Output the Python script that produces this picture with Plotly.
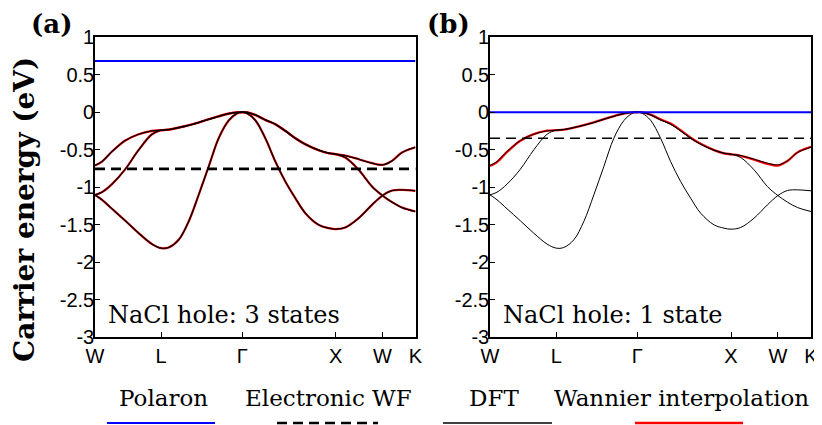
import plotly.graph_objects as go

# ---------------- data ----------------
# high-symmetry path W-L-Γ-X-W-K (path length, units of 2π/a)
sym_k = [0.0, 0.7071, 1.5731, 2.5731, 3.0731, 3.4267]
sym_labels = ["W", "L", "Γ", "X", "W", "K"]

# sampled positions along the path
k_path = [0.0, 0.0748, 0.1818, 0.3243, 0.4669, 0.6094, 0.7071, 0.7876, 0.8946,
          1.0015, 1.1084, 1.2153, 1.3222, 1.4292, 1.5182, 1.5731, 1.6251, 1.7142,
          1.8211, 1.9281, 2.0350, 2.1419, 2.2488, 2.3914, 2.4983, 2.5731, 2.6765,
          2.8190, 2.9616, 3.0731, 3.1754, 3.2824, 3.4267]

# DFT valence bands (eV)
band_top = [-0.710, -0.658, -0.525, -0.378, -0.294, -0.249, -0.240, -0.232, -0.205,
            -0.174, -0.138, -0.094, -0.054, -0.018, -0.002, 0.000, -0.002, -0.036,
            -0.103, -0.160, -0.249, -0.347, -0.427, -0.507, -0.547, -0.560, -0.578,
            -0.627, -0.680, -0.703, -0.649, -0.538, -0.467]
band_mid = [-1.103, -1.067, -0.960, -0.760, -0.503, -0.294, -0.240, -0.232, -0.205,
            -0.174, -0.138, -0.094, -0.054, -0.018, -0.002, 0.000, -0.002, -0.036,
            -0.103, -0.160, -0.249, -0.347, -0.427, -0.507, -0.547, -0.560, -0.605,
            -0.769, -0.992, -1.112, -1.200, -1.272, -1.325]
band_low = [-1.103, -1.169, -1.289, -1.449, -1.614, -1.760, -1.814, -1.805, -1.703,
            -1.458, -1.103, -0.725, -0.347, -0.111, -0.016, 0.000, -0.015, -0.107,
            -0.347, -0.658, -0.925, -1.147, -1.347, -1.503, -1.547, -1.561, -1.538,
            -1.414, -1.236, -1.112, -1.045, -1.036, -1.049]

# Wannier interpolation of the single state in panel (b)
wannier_b = [-0.718, -0.665, -0.530, -0.380, -0.293, -0.247, -0.240, -0.232, -0.204,
             -0.172, -0.135, -0.091, -0.052, -0.017, -0.002, 0.000, -0.001, -0.032,
             -0.096, -0.152, -0.241, -0.340, -0.422, -0.505, -0.548, -0.562, -0.581,
             -0.632, -0.688, -0.712, -0.652, -0.536, -0.462]

polaron_energy = [0.684, 0.0]       # (a), (b)
wf_energy = [-0.756, -0.347]        # (a), (b)

panel_letters = ["(a)", "(b)"]
panel_notes = ["NaCl hole: 3 states", "NaCl hole: 1 state"]
legend_names = ["Polaron", "Electronic WF", "DFT", "Wannier interpolation"]

y_ticks = [1, 0.5, 0, -0.5, -1, -1.5, -2, -2.5, -3]
y_tick_text = ["1", "0.5", "0", "-0.5", "-1", "-1.5", "-2", "-2.5", "-3"]

# ---------------- figure ----------------
W, H = 822, 425
OFF = 8  # page (body) margin in front of the figure


def px(x):
    return (x - OFF) / W


def py(y):
    return 1 - (y - OFF) / H


RED = "#ff0000"
BLUE = "#0000ff"
BLACK = "#000000"
SERIF = "DejaVu Serif"
SANS = "Liberation Sans"

fig = go.Figure()
kmin, kmax = k_path[0], k_path[-1]
bands = [band_top, band_mid, band_low]

# ---- panel (a) ----
for b in bands:
    fig.add_trace(go.Scatter(x=k_path, y=b, mode="lines", xaxis="x", yaxis="y",
                             line=dict(color=RED, width=2.2, shape="spline"),
                             showlegend=False, hoverinfo="skip"))
for b in bands:
    fig.add_trace(go.Scatter(x=k_path, y=b, mode="lines", xaxis="x", yaxis="y",
                             line=dict(color=BLACK, width=1.3, shape="spline"),
                             showlegend=False, hoverinfo="skip"))
fig.add_trace(go.Scatter(x=[kmin, kmax], y=[wf_energy[0]] * 2, mode="lines",
                         xaxis="x", yaxis="y",
                         line=dict(color=BLACK, width=2.6, dash="10px,6px"),
                         showlegend=False, hoverinfo="skip"))
fig.add_trace(go.Scatter(x=[kmin, kmax], y=[polaron_energy[0]] * 2, mode="lines",
                         xaxis="x", yaxis="y",
                         line=dict(color=BLUE, width=2.2),
                         showlegend=False, hoverinfo="skip"))

# ---- panel (b) ----
fig.add_trace(go.Scatter(x=k_path, y=wannier_b, mode="lines", xaxis="x2", yaxis="y2",
                         line=dict(color=RED, width=2.3, shape="spline"),
                         showlegend=False, hoverinfo="skip"))
for b in bands:
    fig.add_trace(go.Scatter(x=k_path, y=b, mode="lines", xaxis="x2", yaxis="y2",
                             line=dict(color=BLACK, width=1.0, shape="spline"),
                             showlegend=False, hoverinfo="skip"))
fig.add_trace(go.Scatter(x=[kmin, kmax], y=[wf_energy[1]] * 2, mode="lines",
                         xaxis="x2", yaxis="y2",
                         line=dict(color=BLACK, width=1.6, dash="10px,6px"),
                         showlegend=False, hoverinfo="skip"))
fig.add_trace(go.Scatter(x=[kmin, kmax], y=[polaron_energy[1]] * 2, mode="lines",
                         xaxis="x2", yaxis="y2",
                         line=dict(color=BLUE, width=1.8),
                         showlegend=False, hoverinfo="skip"))

xax = dict(range=[kmin, kmax], tickvals=sym_k, ticktext=sym_labels,
           ticks="inside", ticklen=5, tickwidth=1.2, tickcolor=BLACK,
           showline=True, mirror=True, linecolor=BLACK, linewidth=1.6,
           showgrid=False, zeroline=False, automargin=False, ticklabelstandoff=0,
           tickfont=dict(family=SANS, size=20, color=BLACK), fixedrange=True)
yax = dict(range=[-3, 1], tickvals=y_ticks, ticktext=y_tick_text,
           ticks="inside", ticklen=5, tickwidth=1.2, tickcolor=BLACK,
           showline=True, mirror=True, linecolor=BLACK, linewidth=1.6,
           showgrid=False, zeroline=False, ticklabelstandoff=-5, automargin=False,
           tickfont=dict(family=SANS, size=20, color=BLACK), fixedrange=True,
           domain=[py(337), py(37.3)])

annotations = [
    dict(text="<b>Carrier energy (eV)</b>", x=px(24), y=py(210), xref="paper", yref="paper",
         textangle=-90, showarrow=False, font=dict(family=SERIF, size=28, color=BLACK),
         xanchor="center", yanchor="middle"),
    dict(text="<b>" + panel_letters[0] + "</b>", x=px(51), y=py(24), xref="paper", yref="paper",
         showarrow=False, font=dict(family=SERIF, size=26, color=BLACK),
         xanchor="center", yanchor="middle"),
    dict(text="<b>" + panel_letters[1] + "</b>", x=px(448), y=py(24), xref="paper", yref="paper",
         showarrow=False, font=dict(family=SERIF, size=26, color=BLACK),
         xanchor="center", yanchor="middle"),
    dict(text=panel_notes[0], x=px(106), y=py(315), xref="paper", yref="paper",
         showarrow=False, font=dict(family=SERIF, size=24, color=BLACK),
         xanchor="left", yanchor="middle"),
    dict(text=panel_notes[1], x=px(501), y=py(315), xref="paper", yref="paper",
         showarrow=False, font=dict(family=SERIF, size=24, color=BLACK),
         xanchor="left", yanchor="middle"),
]
legend_text_x = [163, 328, 494, 681]
for name, cx in zip(legend_names, legend_text_x):
    annotations.append(dict(text=name, x=px(cx), y=py(398), xref="paper", yref="paper",
                            showarrow=False, font=dict(family=SERIF, size=23, color=BLACK),
                            xanchor="center", yanchor="middle"))

legend_keys = [
    (107, 215, dict(color=BLUE, width=2.2)),
    (277, 378, dict(color=BLACK, width=2.6, dash="10px,6px")),
    (443, 552, dict(color=BLACK, width=1.4)),
    (635, 743, dict(color=RED, width=2.6)),
]
shapes = [dict(type="line", xref="paper", yref="paper", x0=px(a), x1=px(b),
               y0=py(423), y1=py(423), line=ln) for a, b, ln in legend_keys]

fig.update_layout(
    width=W, height=H, autosize=False,
    margin=dict(l=0, r=0, t=0, b=0, pad=0, autoexpand=False),
    paper_bgcolor="white", plot_bgcolor="white", showlegend=False,
    xaxis=dict(xax, domain=[px(95), px(415.5)], anchor="y"),
    xaxis2=dict(xax, domain=[px(490), px(811)], anchor="y2"),
    yaxis=dict(yax, anchor="x"),
    yaxis2=dict(yax, anchor="x2"),
    annotations=annotations, shapes=shapes,
)

fig.write_html("out.html")
